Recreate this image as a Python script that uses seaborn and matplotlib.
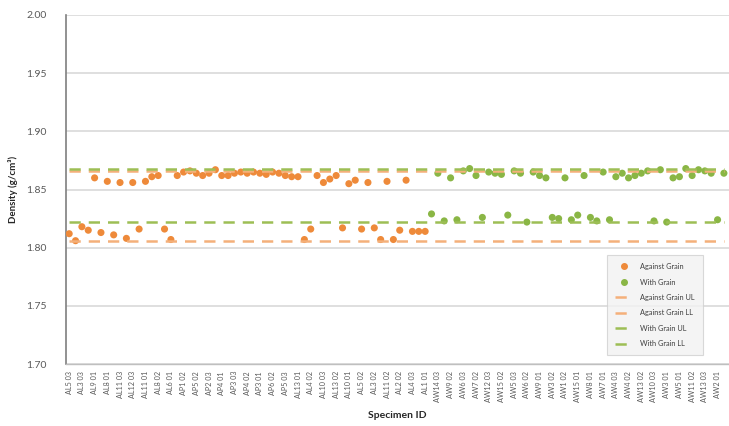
import numpy as np
import pandas as pd
import matplotlib
matplotlib.use("Agg")
import matplotlib.pyplot as plt
from matplotlib.lines import Line2D
import seaborn as sns

# ---------------- data ----------------
tick_labels = [
    "AL5 03", "AL3 03", "AL9 01", "AL8 01", "AL11 03", "AL12 03", "AL11 01", "AL8 02",
    "AL6 01", "AP1 02", "AP5 02", "AP2 03", "AP4 01", "AP3 03", "AP4 02", "AP3 01",
    "AP6 02", "AP5 03", "AL13 01", "AL4 02", "AL10 03", "AL13 02", "AL10 01", "AL5 02",
    "AL3 02", "AL11 02", "AL2 02", "AL4 03", "AL1 01", "AW14 03", "AW9 02", "AW6 03",
    "AW7 02", "AW12 03", "AW15 02", "AW5 03", "AW6 02", "AW9 01", "AW3 02", "AW1 02",
    "AW15 01", "AW8 01", "AW7 01", "AW4 03", "AW4 02", "AW13 02", "AW10 03", "AW3 01",
    "AW5 01", "AW11 02", "AW13 03", "AW2 01",
]

against_grain = [
    1.812, 1.806, 1.818, 1.815, 1.860, 1.813, 1.857, 1.811, 1.856, 1.808,
    1.856, 1.816, 1.857, 1.861, 1.862, 1.816, 1.807, 1.862, 1.865, 1.866,
    1.864, 1.862, 1.864, 1.867, 1.862, 1.862, 1.864, 1.865, 1.864, 1.865,
    1.864, 1.863, 1.865, 1.864, 1.862, 1.861, 1.861, 1.807, 1.816, 1.862,
    1.856, 1.859, 1.862, 1.817, 1.855, 1.858, 1.816, 1.856, 1.817, 1.807,
    1.857, 1.807, 1.815, 1.858, 1.814, 1.814, 1.814,
]

with_grain = [
    1.829, 1.864, 1.823, 1.860, 1.824, 1.866, 1.868, 1.862, 1.826, 1.865,
    1.864, 1.863, 1.828, 1.866, 1.864, 1.822, 1.865, 1.862, 1.860, 1.826,
    1.825, 1.860, 1.824, 1.828, 1.862, 1.826, 1.823, 1.865, 1.824, 1.861,
    1.864, 1.860, 1.862, 1.864, 1.866, 1.823, 1.867, 1.822, 1.860, 1.861,
    1.868, 1.862, 1.867, 1.866, 1.864, 1.824, 1.864,
]

against_ul, against_ll = 1.866, 1.806
with_ul, with_ll = 1.868, 1.822

# ---------------- frame ----------------
n_ag = len(against_grain)
n_wg = len(with_grain)
n = n_ag + n_wg
idx = np.arange(n)
df_pts = pd.DataFrame({
    "idx": np.concatenate([np.arange(n_ag), np.arange(n_ag, n)]),
    "density": against_grain + with_grain,
    "series": ["Against Grain"] * n_ag + ["With Grain"] * n_wg,
})
line_names = ["Against Grain UL", "Against Grain LL", "With Grain UL", "With Grain LL"]
df_lines = pd.DataFrame({
    "idx": np.tile(idx, 4),
    "density": np.concatenate([np.full(n, against_ul), np.full(n, against_ll),
                               np.full(n, with_ul), np.full(n, with_ll)]),
    "series": np.repeat(line_names, n),
})

# ---------------- style ----------------
sns.set_theme(style="white")
plt.rcParams["font.family"] = ["Lato", "DejaVu Sans"]

orange = "#EE8A3A"
green = "#8AB645"
orange_line = "#F4B07A"
green_line = "#9DBE55"
dash = (4.5, 3.2)

fig = plt.figure(figsize=(7.29, 4.26), dpi=100)
ax = fig.add_axes([66 / 729, 1 - 364 / 426, 663 / 729, 349 / 426])

line_pal = {"Against Grain UL": orange_line, "Against Grain LL": orange_line,
            "With Grain UL": green_line, "With Grain LL": green_line}
sns.scatterplot(data=df_pts, x="idx", y="density", hue="series",
                palette={"Against Grain": orange, "With Grain": green},
                s=26, edgecolor="none", ax=ax, zorder=3, legend=False)
sns.lineplot(data=df_lines, x="idx", y="density", hue="series", style="series",
             dashes={k: dash for k in line_names},
             palette=line_pal, linewidth=1.8, ax=ax, zorder=4, legend=False)

ax.set_ylim(1.70, 2.00)
ax.set_xlim(-0.5, n - 0.5 + 0.3)
ax.set_yticks(np.arange(1.70, 2.001, 0.05))
ax.set_yticklabels([f"{v:.2f}" for v in np.arange(1.70, 2.001, 0.05)],
                   fontsize=7.5, color="#595959")
ax.set_xticks(idx[::2][:len(tick_labels)])
ax.set_xticklabels(tick_labels, rotation=90, fontsize=5.2, color="#595959")
ax.tick_params(axis="x", length=3, width=0.6, color="#BFBFBF", pad=2)
ax.tick_params(axis="y", length=0, pad=14)

ax.yaxis.grid(True, color="#D9D9D9", linewidth=1.2)
ax.set_axisbelow(True)
for side in ["top", "right"]:
    ax.spines[side].set_visible(False)
ax.spines["left"].set_color("#7F7F7F")
ax.spines["left"].set_linewidth(1.2)
ax.spines["bottom"].set_color("#BFBFBF")
ax.spines["bottom"].set_linewidth(1.0)

ax.set_ylabel("Density (g/cm\u00b3)", fontsize=7, fontweight="bold", color="#262626", labelpad=6)
ax.set_xlabel("Specimen ID", fontsize=7.5, fontweight="bold", color="#262626", labelpad=6)

handles = [
    Line2D([], [], linestyle="none", marker="o", markersize=4, color=orange),
    Line2D([], [], linestyle="none", marker="o", markersize=4, color=green),
] + [Line2D([], [], color=line_pal[k], linewidth=1.8, dashes=dash) for k in line_names]
labels = ["Against Grain", "With Grain"] + line_names
leg = ax.legend(handles, labels, loc="upper left", bbox_to_anchor=(0.811, 0.323),
                fontsize=5.3, frameon=True, facecolor="#F2F2F2", edgecolor="#D0D0D0",
                fancybox=False, borderpad=1.1, labelspacing=1.15, handlelength=2.4,
                handletextpad=1.0)
leg.get_frame().set_linewidth(0.8)
for t in leg.get_texts():
    t.set_color("#404040")

fig.savefig("out.png", dpi=100)
